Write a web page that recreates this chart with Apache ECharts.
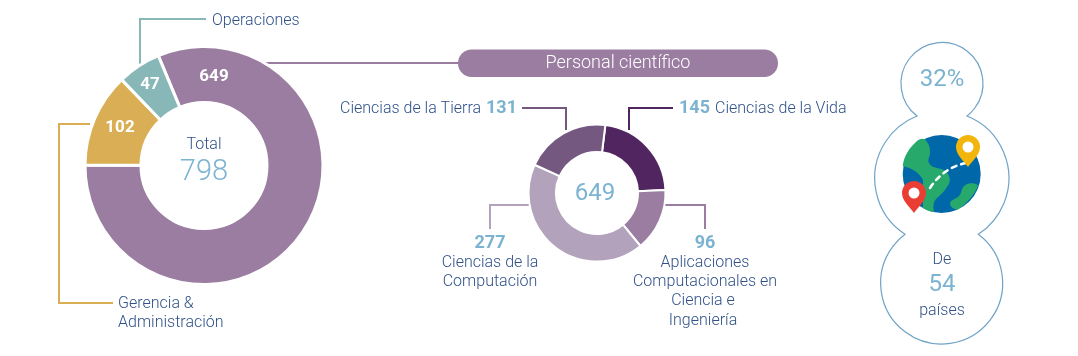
<!DOCTYPE html>
<html><head><meta charset="utf-8">
<style>html,body{margin:0;padding:0;background:#fff}#c{width:1078px;height:356px}</style>
<script src="https://cdn.jsdelivr.net/npm/echarts@6/dist/echarts.min.js"></script>
</head><body><div id="c"></div>
<script>
const staffNames = ['Personal científico','Gerencia & Administración','Operaciones'];
const staffValues = [649,102,47];
const staffColors = ['#9A7DA1','#D9AE54','#87B7B7'];
const sciNames = ['Ciencias de la Vida','Aplicaciones Computacionales en Ciencia e Ingeniería','Ciencias de la Computación','Ciencias de la Tierra'];
const sciValues = [145,96,277,131];
const sciColors = ['#512560','#9A7DA1','#B3A2BC','#745880'];
const totalStaff = 798, totalSci = 649, pct = '32%', countries = 54;

const F = 'Roboto, sans-serif', BLUE = '#2F5089', LB = '#7CB3D1';
const T = (x,y,text,fs,fill,align,w) => ({type:'text',z:10,x,y,style:{text,font:`${w||300} ${fs}px ${F}`,fill,align:align||'left',verticalAlign:'middle'}});
const L = (pts,stroke,w) => ({type:'polyline',z:1,shape:{points:pts},style:{stroke,lineWidth:w||2,fill:null}});

let shapeId = 0;
const pathEl = (d,fill,stroke,lw,dash) => {
  const name = 'iconShape' + (shapeId++);
  echarts.graphic.registerShape(name, echarts.graphic.extendPath(d, {}));
  return {type:name,z:5,style:{fill:fill||null,stroke:stroke||null,lineWidth:lw||0,lineDash:dash,lineCap:'round'}};
};

const pie = (c,r,start,vals,names,cols,bw) => ({type:'pie',center:c,radius:r,startAngle:start,silent:true,animation:false,z:3,
  label:{show:false},labelLine:{show:false},
  itemStyle:{borderColor:'#fff',borderWidth:bw},
  data:vals.map((v,i)=>({value:v,name:names[i],itemStyle:{color:cols[i]}}))});

const g = [
  L([[140,66],[140,19],[206,19]],'#87B7B7'),
  L([[90,124],[59,124],[59,303],[113,303]],'#D9AE54'),
  L([[262,63],[470,63]],'#9A7DA1'),
  L([[566,130],[566,108],[522,108]],'#745880'),
  L([[629,130],[629,108],[673,108]],'#512560'),
  L([[530,205],[490,205],[490,229]],'#B3A2BC'),
  L([[660,205],[705,205],[705,229]],'#9A7DA1'),
  {type:'rect',z:2,shape:{x:458,y:49.5,width:320,height:27.5,r:13.7},style:{fill:'#9A7DA1'}},
  T(618,63.5,staffNames[0],18,'#fff','center'),
  T(212,21,staffNames[2],16,BLUE),
  T(118,304,'Gerencia &',16,BLUE),
  T(118,323,'Administración',16,BLUE),
  T(214,77,String(staffValues[0]),17,'#fff','center',700),
  T(120,128,String(staffValues[1]),17,'#fff','center',700),
  T(150,85,String(staffValues[2]),17,'#fff','center',700),
  T(204,145,'Total',16,BLUE,'center'),
  T(204,173,String(totalStaff),29,LB,'center'),
  T(340,108.5,'Ciencias de la Tierra',16,BLUE),
  T(486,108,String(sciValues[3]),18,LB,'left',700),
  T(679,108,String(sciValues[0]),18,LB,'left',700),
  T(715,108.5,'Ciencias de la Vida',16,BLUE),
  T(595,194,String(totalSci),24,LB,'center',400),
  T(490,243,String(sciValues[2]),18,LB,'center',700),
  T(490,263,'Ciencias de la',16,BLUE,'center'),
  T(490,282,'Computación',16,BLUE,'center'),
  T(705,243,String(sciValues[1]),18,LB,'center',700),
  T(705,263,'Aplicaciones',16,BLUE,'center'),
  T(705,282,'Computacionales en',16,BLUE,'center'),
  T(703,301,'Ciencia e',16,BLUE,'center'),
  T(703,321,'Ingeniería',16,BLUE,'center'),
  pathEl('M917 116A41 41 0 1 1 967 116A67 67 0 0 1 978.3 234.3A61 61 0 1 1 905 234.3A67 67 0 0 1 917 116Z',null,'#6FA3C7',1.2),
  T(942,80,pct,24,LB,'center',400),
  T(942,260,'De',16,BLUE,'center'),
  T(942,285,String(countries),24,LB,'center',400),
  T(942,311,'países',16,BLUE,'center'),
  {type:'circle',z:4,shape:{cx:941.7,cy:174,r:39},style:{fill:'#0067A9'}},
  pathEl('M902.7 166C904 156 909 148 917 141C921 138 925 138 927 142C930 146 930 149 930 153C930 157 927 159 929 163C931 167 934 167 937 168C942 169 946 170 948 174C951 179 950 183 947 187C944 192 940 195 936 199C933 203 933 207 934 212C930 212 927 210 923 208L923 180C920 173 912 168 902.7 166Z','#27A96C',null,0),
  pathEl('M950 203C951 200 955 199 958 197C962 194 961 189 964 186C967 183 973 182 978 185C976 193 967 204 957 210C954 209 950 207 950 203Z','#27A96C',null,0),
  pathEl('M930 188Q943 168 966 163',null,'#fff',2.5,[5,5]),
  pathEl('M968 167C964 161 956 155 956 147A12 12 0 0 1 980 147C980 155 972 161 968 167Z','#F1B50B',null,0),
  {type:'circle',z:6,shape:{cx:968,cy:147,r:5.5},style:{fill:'#fff'}},
  pathEl('M914 213C910 207 902 201 902 193A12 12 0 0 1 926 193C926 201 918 207 914 213Z','#EA3D33',null,0),
  {type:'circle',z:6,shape:{cx:914,cy:193,r:5.5},style:{fill:'#fff'}}
];

const chart = echarts.init(document.getElementById('c'),null,{renderer:'canvas'});
chart.setOption({
  animation:false,backgroundColor:'#fff',
  series:[
    pie([204,165.5],[63,119],112.6,staffValues,staffNames,staffColors,3),
    pie([597,193],[41,68.5],83,sciValues,sciNames,sciColors,2)
  ],
  graphic:{elements:g}
});
</script></body></html>
